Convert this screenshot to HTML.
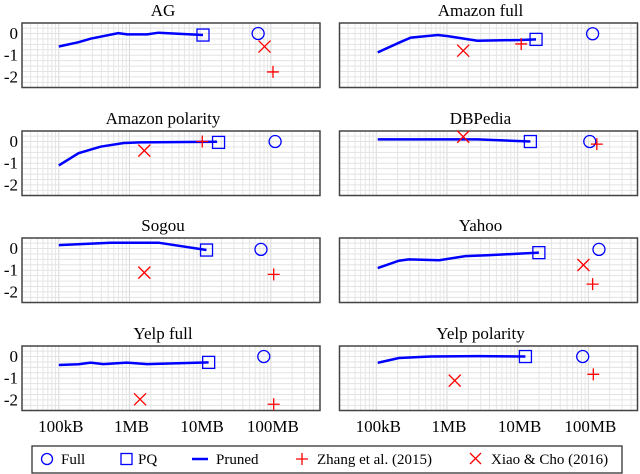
<!DOCTYPE html>
<html><head><meta charset="utf-8"><style>
html,body{margin:0;padding:0;background:#fff;}
svg{display:block;}
svg text{font-family:"Liberation Serif","DejaVu Serif",serif;}
</style></head><body>
<svg id="chart" width="640" height="474" viewBox="0 0 640 474" xmlns="http://www.w3.org/2000/svg"></svg>
<script>
const titles = ["AG","Amazon full","Amazon polarity","DBPedia","Sogou","Yahoo","Yelp full","Yelp polarity"];
const prunedX = [
 [5.0,5.28,5.45,5.84,5.97,6.25,6.41,7.04],
 [5.02,5.35,5.49,5.87,6.01,6.43,7.04,7.26],
 [5.0,5.28,5.59,5.92,6.15,7.24],
 [5.02,6.24,6.43,7.18],
 [5.0,5.73,6.41,7.09],
 [5.02,5.32,5.46,5.89,6.26,6.57,7.30],
 [5.0,5.28,5.45,5.63,5.96,6.25,7.12],
 [5.02,5.32,5.77,6.43,7.11]];
const prunedY = [
 [-0.6,-0.4,-0.24,0.02,-0.04,-0.04,0.04,-0.07],
 [-0.87,-0.38,-0.19,-0.07,-0.12,-0.33,-0.30,-0.27],
 [-1.1,-0.54,-0.24,-0.07,-0.04,-0.01],
 [0.1,0.1,0.1,0.0],
 [0.16,0.27,0.27,-0.07],
 [-0.9,-0.56,-0.5,-0.54,-0.35,-0.31,-0.19],
 [-0.39,-0.36,-0.28,-0.35,-0.28,-0.35,-0.27],
 [-0.29,-0.07,0,0.02,0]];
const pqX = [7.04,7.26,7.26,7.18,7.09,7.30,7.12,7.11];
const pqY = [-0.07,-0.27,-0.04,0.0,-0.07,-0.19,-0.27,0];
const fullX = [7.82,8.06,8.06,8.02,7.86,8.15,7.90,7.92];
const fullY = [0,-0.01,0,0,-0.04,-0.04,0,0];
const zhangX = [8.03,7.05,7.03,8.12,8.04,8.06,8.04,8.07];
const zhangY = [-1.77,-0.48,0,-0.12,-1.19,-1.64,-2.2,-0.82];
const xiaoX = [7.91,6.23,6.21,6.23,6.21,7.93,6.15,6.11];
const xiaoY = [-0.6,-0.79,-0.42,0.22,-1.11,-0.76,-1.97,-1.11];
const yTicks = [0,-1,-2];
const yTickLabels = ["0","-1","-2"];
const xTicks = [5,6,7,8];
const xTickLabels = ["100kB","1MB","10MB","100MB"];

const NS="http://www.w3.org/2000/svg";
const svg=document.getElementById('chart');
const FF='"Liberation Serif", "DejaVu Serif", serif';
function mk(tag,attrs,parent){const e=document.createElementNS(NS,tag);for(const k in attrs)e.setAttribute(k,attrs[k]);if(tag==='text')e.setAttribute('font-family',FF);(parent||svg).appendChild(e);return e;}
const colLeft=[22,339.5], rowTop=[23,131,238,346], W=298, H=64.5;
const LMIN=4.48, DEC=70.7, YMAX=0.485, UNIT=21.7;
titles.forEach((t,i)=>{
  const col=i%2,row=Math.floor(i/2);
  const x0=colLeft[col], y0=rowTop[row];
  const xs=l=>x0+(l-LMIN)*DEC;
  const ys=v=>y0+(YMAX-v)*UNIT;
  const g=mk('g',{});
  
  
  for(let d=4;d<=8;d++)for(let m=1;m<=9;m++){
    const l=d+Math.log10(m); if(l<LMIN||l>LMIN+W/DEC)continue;
    const ln=mk('line',{x1:xs(l),x2:xs(l),y1:y0,y2:y0+H,stroke:m===1?'#d8d8d8':'#e6e6e6','stroke-width':1},g);
    
    
  }
  for(let v=0.25;v>=-2.5;v-=0.25){
    const ln=mk('line',{x1:x0,x2:x0+W,y1:ys(v),y2:ys(v),stroke:'#e3e3e3','stroke-width':1},g);
    
    
  }
  const fr=mk('rect',{x:x0,y:y0,width:W,height:H,fill:'none',stroke:'#444','stroke-width':1.5},g);
  
  
  const tt=mk('text',{x:x0+W/2-8,y:y0-7,'text-anchor':'middle','font-size':17},g);tt.textContent=t;
  
  
  if(col===0){yTicks.forEach((v,k)=>{const tx=mk('text',{x:18,y:ys(v)+5.5,'text-anchor':'end','font-size':17},g);tx.textContent=yTickLabels[k];
    
    });}
  if(row===3){xTicks.forEach((v,k)=>{const tx=mk('text',{x:xs(v)+2,y:432,'text-anchor':'middle','font-size':17},g);tx.textContent=xTickLabels[k];
    
    });}
  const pts=prunedX[i].map((l,k)=>xs(l).toFixed(1)+','+ys(prunedY[i][k]).toFixed(1)).join(' ');
  const pl=mk('polyline',{points:pts,fill:'none',stroke:'#0000ff','stroke-width':2.5},g);
  
  
  const sq=mk('rect',{x:xs(pqX[i])-6,y:ys(pqY[i])-6,width:12,height:12,fill:'none',stroke:'#0000ff','stroke-width':1.3},g);
  
  
  const ci=mk('circle',{cx:xs(fullX[i]),cy:ys(fullY[i]),r:6,fill:'none',stroke:'#0000ff','stroke-width':1.3},g);
  
  
  const zx=xs(zhangX[i]),zy=ys(zhangY[i]);
  const pz=mk('path',{d:`M${zx-6},${zy}H${zx+6}M${zx},${zy-6}V${zy+6}`,stroke:'#ff0000','stroke-width':1.3,fill:'none'},g);
  
  
  const cx=xs(xiaoX[i]),cy=ys(xiaoY[i]);
  const px=mk('path',{d:`M${cx-6},${cy-6}L${cx+6},${cy+6}M${cx-6},${cy+6}L${cx+6},${cy-6}`,stroke:'#ff0000','stroke-width':1.3,fill:'none'},g);
  
  
});
const lg=mk('g',{});


const lb=mk('rect',{x:32,y:446,width:590,height:27,fill:'#fff',stroke:'#333','stroke-width':1.3},lg);


const ly=459;
let e;
e=mk('circle',{cx:47,cy:ly,r:5.5,fill:'none',stroke:'#0000ff','stroke-width':1.3},lg);


e=mk('rect',{x:121,y:ly-5.5,width:11,height:11,fill:'none',stroke:'#0000ff','stroke-width':1.3},lg);


e=mk('line',{x1:192,x2:208,y1:ly,y2:ly,stroke:'#0000ff','stroke-width':2.5},lg);


e=mk('path',{d:`M296,${ly}H308M302,${ly-6}V${ly+6}`,stroke:'#ff0000','stroke-width':1.3},lg);


e=mk('path',{d:`M470,${ly-6}L481,${ly+5}M470,${ly+5}L481,${ly-6}`,stroke:'#ff0000','stroke-width':1.3},lg);


const labs=[[61,"Full"],[138,"PQ"],[216,"Pruned"],[317,"Zhang et al. (2015)"],[491,"Xiao & Cho (2016)"]];
labs.forEach(([x,t])=>{const tx=mk('text',{x:x,y:ly+5,'font-size':15},lg);tx.textContent=t;
  
  });
</script>
</body></html>
